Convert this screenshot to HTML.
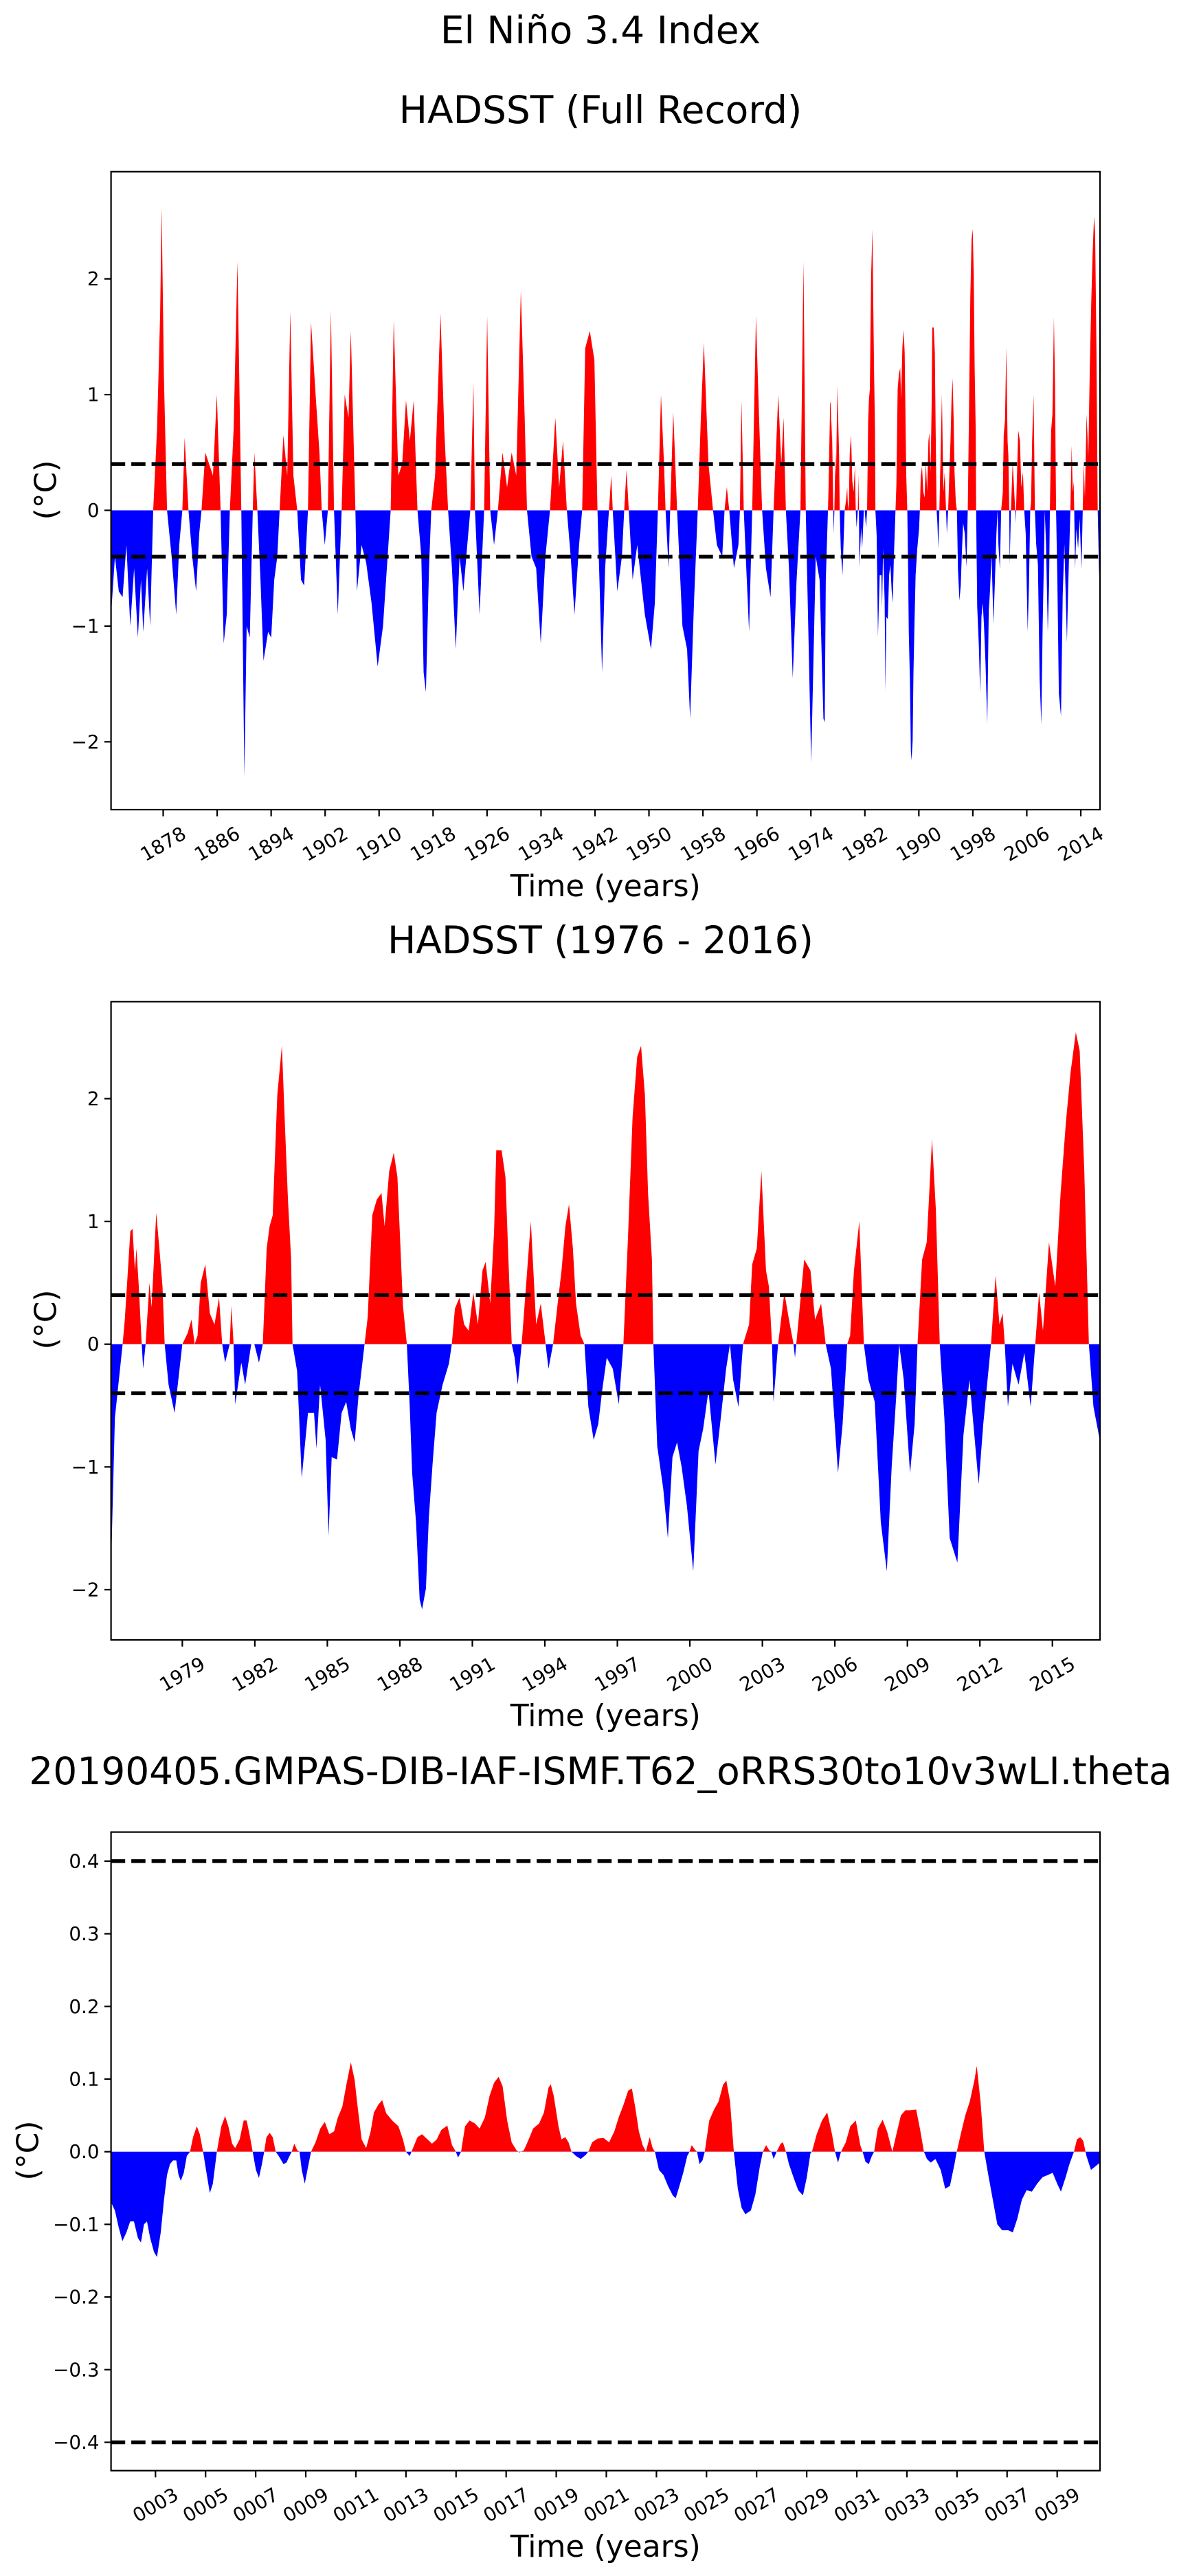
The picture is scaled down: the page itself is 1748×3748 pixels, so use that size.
<!DOCTYPE html>
<html><head><meta charset="utf-8"><title>El Niño 3.4 Index</title>
<style>
html,body{margin:0;padding:0;background:#fff;}
svg{display:block;font-family:"DejaVu Sans","Liberation Sans",sans-serif;}
</style></head>
<body>
<svg id="fig" xmlns="http://www.w3.org/2000/svg" width="1748" height="3748" viewBox="0 0 1748 3748">
<rect x="0" y="0" width="1748" height="3748" fill="#fff"/>
<text x="874" y="63" font-size="55" text-anchor="middle">El Niño 3.4 Index</text>
</svg>
<script>
// ===== Panel 1: HADSST full record (1870-1976 part; 1976-2016 shared with panel 2) =====
const earlyYears = [1870.28,1870.85,1871.42,1871.98,1872.55,1873.12,1873.69,1874.25,1874.71,1875.05,1875.62,1876.07,1876.52,1877.09,1877.55,1877.77,1878.11,1878.57,1879.25,1879.93,1880.38,1880.84,1881.18,1881.75,1882.31,1882.88,1883.34,1883.68,1884.24,1884.81,1885.38,1885.95,1886.51,1886.97,1887.42,1887.88,1888.44,1889.01,1889.58,1890.03,1890.37,1890.83,1891.28,1891.51,1891.96,1892.42,1892.87,1893.55,1894.01,1894.46,1894.91,1895.26,1895.82,1896.39,1896.84,1897.30,1897.87,1898.43,1898.89,1899.46,1899.91,1900.59,1901.16,1901.50,1901.95,1902.41,1902.86,1903.32,1903.88,1904.45,1904.90,1905.47,1905.81,1906.27,1906.49,1906.72,1907.40,1908.08,1908.88,1909.79,1910.58,1911.15,1911.72,1912.17,1912.85,1913.42,1913.99,1914.56,1915.13,1915.69,1916.26,1916.60,1916.94,1917.40,1917.73,1918.30,1919.10,1919.66,1920.23,1920.80,1921.37,1921.93,1922.50,1923.07,1923.52,1923.98,1924.21,1924.89,1925.57,1926.02,1926.47,1927.04,1927.61,1928.29,1928.97,1929.65,1930.33,1931.01,1931.58,1931.92,1932.60,1933.28,1933.96,1934.65,1935.33,1936.12,1936.69,1937.26,1937.83,1938.40,1938.96,1939.64,1940.10,1940.55,1941.23,1941.91,1942.37,1943.05,1943.50,1944.07,1944.41,1944.63,1945.31,1945.99,1946.33,1946.67,1947.01,1947.58,1948.26,1949.39,1950.30,1950.87,1951.32,1951.78,1952.23,1952.46,1952.91,1953.14,1953.60,1954.17,1954.96,1955.65,1956.10,1956.67,1957.23,1957.69,1958.14,1958.82,1959.50,1960.07,1960.86,1961.20,1961.54,1961.90,1962.59,1963.26,1963.48,1963.71,1964.05,1964.50,1964.84,1965.30,1965.86,1966.32,1966.77,1967.34,1968.02,1968.47,1969.16,1969.61,1969.95,1970.29,1970.75,1971.31,1971.88,1972.45,1972.90,1973.24,1974.04,1974.72,1975.29,1975.86];
const earlyVals = [-0.9,-0.4,-0.7,-0.75,-0.3,-1.0,-0.5,-1.1,-0.6,-1.05,-0.5,-1.0,0,0.7,1.7,2.62,1.15,0,-0.4,-0.9,-0.3,0,0.63,0,-0.4,-0.7,-0.2,0,0.5,0.4,0.3,1.0,0,-1.15,-0.9,0,0.7,2.15,0,-2.3,-1.0,-1.1,0,0.5,0,-0.6,-1.3,-1.05,-1.1,-0.6,-0.4,0,0.65,0.3,1.72,0.3,0,-0.6,-0.65,0,1.63,1.0,0.5,0,-0.3,0,1.73,0,-0.9,0,1.0,0.8,1.55,0.5,0,-0.7,-0.3,-0.45,-0.8,-1.35,-1.0,-0.5,0,1.65,0.3,0.4,0.95,0.6,0.95,0,-0.4,-1.4,-1.57,-0.5,0,0.3,1.7,0.7,0,-0.5,-1.2,-0.4,-0.7,-0.3,0,1.1,0,-0.9,0,1.68,0,-0.3,0,0.5,0.2,0.5,0.3,1.9,0.8,0,-0.4,-0.5,-1.15,-0.4,0,0.8,0.2,0.6,0,-0.4,-0.9,-0.3,0,1.4,1.55,1.3,0,-1.4,-0.5,0,0.3,0,-0.7,-0.4,0,0.35,0,-0.6,-0.3,-0.9,-1.2,-0.8,0,1.0,0.4,0,-0.5,0,0.85,0,-1.0,-1.2,-1.8,-0.8,0,0.8,1.45,0.4,0,-0.3,-0.4,0,0.2,0,-0.5,-0.3,0,0.95,0,-0.6,-1.05,0,1.68,0.8,0,-0.5,-0.75,0,1.0,0.4,0.8,0,-0.5,-1.45,-0.6,0,2.15,0,-2.18,-0.4,-0.6,-1.8];

// ===== Panel 2: HADSST 1976-2016 =====
const modernYears = [1976.05,1976.21,1976.53,1976.62,1976.85,1976.94,1977.04,1977.10,1977.19,1977.32,1977.38,1977.48,1977.64,1977.73,1977.92,1978.05,1978.18,1978.27,1978.43,1978.68,1979.00,1979.22,1979.38,1979.51,1979.63,1979.76,1979.95,1980.14,1980.33,1980.52,1980.65,1980.77,1980.96,1981.03,1981.12,1981.19,1981.44,1981.60,1981.85,1981.98,1982.17,1982.33,1982.49,1982.61,1982.74,1982.93,1983.12,1983.25,1983.37,1983.50,1983.56,1983.75,1983.94,1984.20,1984.45,1984.55,1984.70,1984.93,1985.05,1985.18,1985.40,1985.59,1985.78,1985.97,1986.13,1986.29,1986.54,1986.67,1986.86,1987.05,1987.24,1987.37,1987.56,1987.75,1987.90,1988.13,1988.29,1988.41,1988.51,1988.67,1988.82,1988.92,1989.08,1989.20,1989.36,1989.52,1989.77,1990.03,1990.15,1990.28,1990.47,1990.66,1990.85,1991.04,1991.23,1991.42,1991.55,1991.74,1991.90,1991.99,1992.21,1992.37,1992.50,1992.63,1992.75,1992.88,1993.04,1993.20,1993.42,1993.64,1993.83,1994.02,1994.15,1994.34,1994.53,1994.69,1994.85,1995.00,1995.16,1995.29,1995.48,1995.64,1995.80,1996.02,1996.21,1996.37,1996.56,1996.81,1997.06,1997.25,1997.44,1997.63,1997.82,1997.98,1998.14,1998.27,1998.43,1998.49,1998.65,1998.90,1999.09,1999.28,1999.47,1999.66,1999.88,2000.14,2000.36,2000.55,2000.77,2001.06,2001.28,2001.50,2001.66,2001.79,2002.01,2002.20,2002.45,2002.58,2002.77,2002.96,2003.15,2003.27,2003.40,2003.46,2003.65,2003.91,2004.10,2004.29,2004.35,2004.48,2004.73,2004.99,2005.18,2005.43,2005.62,2005.84,2006.13,2006.32,2006.51,2006.63,2006.79,2007.01,2007.20,2007.39,2007.65,2007.90,2008.15,2008.35,2008.54,2008.66,2008.85,2009.11,2009.30,2009.42,2009.61,2009.80,2010.02,2010.18,2010.34,2010.53,2010.75,2011.07,2011.32,2011.57,2011.73,2011.95,2012.14,2012.46,2012.65,2012.81,2012.94,2013.03,2013.16,2013.35,2013.60,2013.84,2014.10,2014.29,2014.45,2014.61,2014.86,2015.12,2015.34,2015.56,2015.75,2015.97,2016.13,2016.32,2016.51,2016.70,2016.96];
const modernVals = [-1.83,-0.6,0,0.2,0.92,0.94,0.6,0.78,0.5,0,-0.2,0,0.5,0.3,1.07,0.78,0.47,0,-0.33,-0.56,0,0.09,0.2,0,0.07,0.5,0.65,0.25,0.16,0.38,0,-0.15,0,0.31,0,-0.49,-0.15,-0.33,0,0,-0.15,0,0.78,0.96,1.05,2.03,2.43,1.76,1.18,0.7,0,-0.22,-1.09,-0.56,-0.56,-0.85,-0.33,-0.78,-1.56,-0.92,-0.94,-0.56,-0.47,-0.69,-0.8,-0.42,0,0.22,1.05,1.18,1.23,0.96,1.41,1.56,1.36,0.31,0,-0.51,-1.05,-1.45,-2.08,-2.16,-1.99,-1.41,-0.96,-0.56,-0.33,-0.16,0,0.29,0.38,0.16,0.11,0.42,0.16,0.6,0.67,0.33,0.92,1.58,1.58,1.36,0.65,0,-0.11,-0.33,0,0.42,1.0,0.16,0.33,0.02,-0.2,0,0.33,0.6,0.96,1.14,0.78,0.33,0.07,0,-0.51,-0.78,-0.65,-0.38,-0.11,-0.2,-0.49,0,0.87,1.85,2.34,2.43,2.03,1.23,0.69,0,-0.83,-1.18,-1.58,-0.92,-0.8,-1.0,-1.32,-1.85,-0.87,-0.69,-0.38,-0.98,-0.6,-0.2,0,-0.29,-0.51,0,0.16,0.65,0.78,1.41,0.6,0.47,0,-0.47,0,0.42,0.2,0,-0.11,0.16,0.69,0.6,0.2,0.33,0,-0.2,-1.05,-0.65,0,0.07,0.6,1.0,0,-0.29,-0.47,-1.45,-1.85,-1.0,-0.42,0,-0.29,-1.05,-0.65,0,0.69,0.83,1.67,1.09,0,-0.6,-1.58,-1.78,-0.74,-0.29,-0.65,-1.14,-0.65,0,0.56,0.16,0.25,0,-0.51,-0.16,-0.33,-0.07,-0.51,0,0.42,0.11,0.83,0.47,1.23,1.81,2.21,2.54,2.39,1.41,0,-0.51,-0.78];

// ===== Panel 3: model run =====
const modelYears = [1.23,1.38,1.53,1.68,1.84,1.99,2.14,2.30,2.42,2.54,2.66,2.79,2.94,3.06,3.21,3.34,3.46,3.58,3.70,3.83,3.92,4.01,4.13,4.25,4.38,4.50,4.65,4.77,4.90,5.05,5.17,5.29,5.45,5.63,5.78,5.91,6.06,6.18,6.36,6.52,6.64,6.76,6.88,7.01,7.13,7.25,7.34,7.43,7.56,7.68,7.80,7.92,8.11,8.23,8.35,8.44,8.54,8.66,8.75,8.84,8.96,9.09,9.21,9.39,9.58,9.76,9.94,10.13,10.28,10.46,10.62,10.80,10.95,11.07,11.23,11.41,11.59,11.72,11.90,12.05,12.21,12.45,12.70,12.88,13.00,13.15,13.28,13.46,13.64,13.86,14.04,14.23,14.41,14.65,14.84,14.99,15.08,15.20,15.36,15.54,15.75,15.94,16.15,16.34,16.52,16.70,16.86,17.04,17.22,17.41,17.53,17.71,17.90,18.08,18.32,18.51,18.69,18.78,18.90,19.09,19.21,19.36,19.49,19.61,19.79,19.98,20.19,20.31,20.43,20.65,20.89,21.11,21.32,21.50,21.69,21.87,22.02,22.15,22.30,22.45,22.58,22.73,22.85,22.94,23.10,23.28,23.46,23.65,23.77,23.92,24.07,24.23,24.32,24.41,24.53,24.62,24.72,24.84,24.93,25.11,25.30,25.48,25.66,25.79,25.94,26.09,26.25,26.40,26.55,26.77,26.95,27.13,27.25,27.38,27.50,27.59,27.68,27.80,27.96,28.05,28.17,28.29,28.48,28.66,28.85,29.00,29.15,29.21,29.40,29.61,29.82,30.01,30.13,30.25,30.37,30.56,30.74,30.96,31.14,31.23,31.35,31.48,31.60,31.69,31.84,32.03,32.21,32.42,32.58,32.76,32.94,33.13,33.37,33.52,33.68,33.80,33.95,34.14,34.35,34.53,34.72,34.90,34.99,35.15,35.33,35.51,35.70,35.79,35.94,36.09,36.25,36.43,36.61,36.80,37.04,37.23,37.41,37.59,37.78,37.99,38.20,38.42,38.63,38.82,39.00,39.15,39.34,39.49,39.67,39.79,39.92,40.04,40.17,40.35,40.53,40.71];
const modelVals = [-0.07,-0.081,-0.104,-0.123,-0.111,-0.096,-0.096,-0.119,-0.125,-0.1,-0.096,-0.119,-0.138,-0.145,-0.111,-0.066,-0.032,-0.017,-0.012,-0.012,-0.032,-0.04,-0.029,-0.006,0,0.02,0.035,0.024,0,-0.032,-0.057,-0.044,0,0.035,0.049,0.035,0.011,0.005,0.017,0.043,0.043,0.023,0,-0.025,-0.036,-0.017,0,0.02,0.026,0.02,0,-0.006,-0.017,-0.015,-0.006,0,0.011,0.002,0,-0.025,-0.044,-0.021,0,0.013,0.032,0.041,0.024,0.028,0.047,0.062,0.092,0.123,0.099,0.062,0.017,0.005,0.028,0.054,0.065,0.071,0.053,0.043,0.035,0.017,0,-0.006,0.005,0.02,0.024,0.017,0.011,0.017,0.03,0.036,0.009,0,-0.008,0,0.035,0.043,0.039,0.032,0.047,0.077,0.095,0.103,0.09,0.043,0.013,0.002,-0.001,0.002,0.017,0.032,0.039,0.054,0.088,0.093,0.077,0.035,0.017,0.02,0.013,0,-0.006,-0.01,-0.004,0.002,0.013,0.018,0.019,0.013,0.028,0.048,0.065,0.084,0.087,0.062,0.028,0.009,0,0.02,0.005,0,-0.025,-0.032,-0.047,-0.06,-0.064,-0.047,-0.029,-0.006,0,0.009,0.003,0,-0.017,-0.012,0,0.043,0.058,0.069,0.092,0.098,0.069,0,-0.051,-0.077,-0.086,-0.081,-0.059,-0.02,0,0.009,0.002,0,-0.01,0,0.011,0.013,0,-0.017,-0.036,-0.053,-0.06,-0.036,-0.002,0,0.024,0.043,0.054,0.024,0,-0.015,0,0.013,0.035,0.043,0.009,0,-0.014,-0.017,-0.006,0,0.032,0.044,0.028,0,0.024,0.05,0.057,0.057,0.058,0.032,0,-0.01,-0.015,-0.01,-0.025,-0.051,-0.047,-0.017,0,0.024,0.05,0.069,0.099,0.118,0.069,0,-0.032,-0.066,-0.1,-0.108,-0.108,-0.111,-0.092,-0.066,-0.053,-0.055,-0.044,-0.035,-0.032,-0.029,-0.044,-0.055,-0.035,-0.017,0,0.017,0.02,0.015,-0.006,-0.025,-0.02,-0.015];

const fullTicks = [1878,1886,1894,1902,1910,1918,1926,1934,1942,1950,1958,1966,1974,1982,1990,1998,2006,2014];
const fullTickLabels = fullTicks.map(String);
const modernTicks = [1979,1982,1985,1988,1991,1994,1997,2000,2003,2006,2009,2012,2015];
const modernTickLabels = modernTicks.map(String);
const modelTicks = [3,5,7,9,11,13,15,17,19,21,23,25,27,29,31,33,35,37,39];
const modelTickLabels = ["0003","0005","0007","0009","0011","0013","0015","0017","0019","0021","0023","0025","0027","0029","0031","0033","0035","0037","0039"];
const hadYTicks = [-2,-1,0,1,2];
const hadYTickLabels = ["\u22122","\u22121","0","1","2"];
const modelYTicks = [-0.4,-0.3,-0.2,-0.1,0,0.1,0.2,0.3,0.4];
const modelYTickLabels = ["\u22120.4","\u22120.3","\u22120.2","\u22120.1","0.0","0.1","0.2","0.3","0.4"];
const thresholds = [0.4,-0.4];

const NS = "http://www.w3.org/2000/svg";
const svg = document.getElementById("fig");
function mk(tag, attrs, parent){
  const e = document.createElementNS(NS, tag);
  for (const k in attrs) e.setAttribute(k, attrs[k]);
  (parent||svg).appendChild(e);
  return e;
}

function panel(o){
  const g = mk("g", {});
  
  
  const L=161.6, R=1601, T=o.top, B=o.bottom;
  const xs = v => L + (v - o.x0) / (o.x1 - o.x0) * (R - L);
  const ys = v => T + (o.y1 - v) / (o.y1 - o.y0) * (B - T);
  // title
  const t = mk("text", {x:874, y:o.titleY, "font-size":55, "text-anchor":"middle"}, g);
  t.textContent = o.title;
  
  
  // clip
  const id = o.id;
  const defs = mk("defs", {}, g);
  const cpA = mk("clipPath", {id:id+"a"}, defs);
  mk("rect", {x:L, y:T, width:R-L, height:ys(0)-T}, cpA);
  const cpB = mk("clipPath", {id:id+"b"}, defs);
  mk("rect", {x:L, y:ys(0), width:R-L, height:B-ys(0)}, cpB);
  let d = "M" + xs(o.xs[0]).toFixed(2) + "," + ys(0).toFixed(2);
  for (let i=0;i<o.xs.length;i++) d += "L" + xs(o.xs[i]).toFixed(2) + "," + ys(o.vs[i]).toFixed(2);
  d += "L" + xs(o.xs[o.xs.length-1]).toFixed(2) + "," + ys(0).toFixed(2) + "Z";
  const pos = mk("path", {d:d, fill:"#ff0000", "clip-path":"url(#"+id+"a)"}, g);
  
  
  const neg = mk("path", {d:d, fill:"#0000ff", "clip-path":"url(#"+id+"b)"}, g);
  
  
  // thresholds
  thresholds.forEach(v => {
    const ln = mk("line", {x1:L, x2:R, y1:ys(v), y2:ys(v), stroke:"#000", "stroke-width":5.5, "stroke-dasharray":"20.6 8.9"}, g);
    
    
  });
  // frame
  const fr = mk("rect", {x:L, y:T, width:R-L, height:B-T, fill:"none", stroke:"#000", "stroke-width":2.2}, g);
  
  
  // y ticks
  o.yt.forEach((v,i) => {
    const y = ys(v);
    const tk = mk("line", {x1:L-9.7, x2:L, y1:y, y2:y, stroke:"#000", "stroke-width":2.2}, g);
    
    
    const tx = mk("text", {x:L-17, y:y+9.5, "font-size":27.8, "text-anchor":"end"}, g);
    tx.textContent = o.ytl[i];
    
    
  });
  // x ticks
  o.xt.forEach((v,i) => {
    const x = xs(v);
    const tk = mk("line", {x1:x, x2:x, y1:B, y2:B+9.7, stroke:"#000", "stroke-width":2.2}, g);
    
    
    const tx = mk("text", {x:0, y:0, "font-size":27.8, "text-anchor":"middle", "dominant-baseline":"central", transform:"translate("+x.toFixed(2)+","+(B+50)+") rotate(-30)"}, g);
    tx.textContent = o.xtl[i];
    
    
  });
  const xl = mk("text", {x:(L+R)/2, y:o.xlabY, "font-size":44, "text-anchor":"middle"}, g);
  xl.textContent = "Time (years)";
  
  
  const yl = mk("text", {x:0, y:0, "font-size":44, "text-anchor":"middle", "dominant-baseline":"central", transform:"translate("+o.ylabX+","+o.ylabY+") rotate(-90)"}, g);
  yl.textContent = "(\u00B0C)";
  
  
}

panel({name:"full-record-chart", id:"p1", title:"HADSST (Full Record)", titleY:179, top:249.8, bottom:1178,
  x0:1870.27, x1:2016.85, y0:-2.586, y1:2.926,
  xs:earlyYears.concat(modernYears), vs:earlyVals.concat(modernVals),
  xt:fullTicks, xtl:fullTickLabels, yt:hadYTicks, ytl:hadYTickLabels, xlabY:1304, ylabX:67, ylabY:713});
panel({name:"recent-record-chart", id:"p2", title:"HADSST (1976 - 2016)", titleY:1387, top:1457.4, bottom:2386,
  x0:1976.05, x1:2016.97, y0:-2.409, y1:2.79,
  xs:modernYears, vs:modernVals,
  xt:modernTicks, xtl:modernTickLabels, yt:hadYTicks, ytl:hadYTickLabels, xlabY:2511, ylabX:67, ylabY:1920});
panel({name:"model-run-chart", id:"p3", title:"20190405.GMPAS-DIB-IAF-ISMF.T62_oRRS30to10v3wLI.theta", titleY:2596, top:2665.6, bottom:3594.7,
  x0:1.225, x1:40.71, y0:-0.439, y1:0.44,
  xs:modelYears, vs:modelVals,
  xt:modelTicks, xtl:modelTickLabels, yt:modelYTicks, ytl:modelYTickLabels, xlabY:3720, ylabX:41, ylabY:3129});
</script>
</body></html>
